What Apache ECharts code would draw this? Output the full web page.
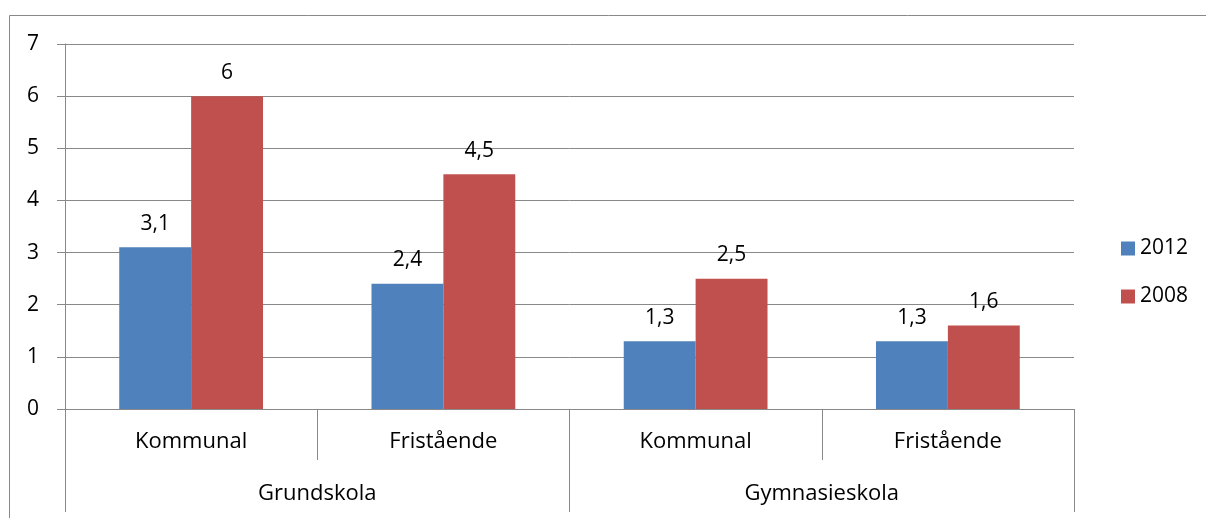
<!DOCTYPE html>
<html lang="sv">
<head>
<meta charset="UTF-8">
<title>Kommunal och fristående</title>
<script src="https://cdn.jsdelivr.net/npm/echarts@6/dist/echarts.min.js"></script>
<style>
  html, body { margin: 0; padding: 0; background: #fff; }
  #chart { width: 1206px; height: 518px; }
</style>
</head>
<body>
<div id="chart"></div>
<script>
var kategorier = ['Kommunal', 'Fristående', 'Kommunal', 'Fristående'];
var skolformer = ['Grundskola', 'Gymnasieskola'];
var serie2012 = [3.1, 2.4, 1.3, 1.3];
var serie2008 = [6, 4.5, 2.5, 1.6];
var yTicks = [0, 1, 2, 3, 4, 5, 6, 7];

var chart = echarts.init(document.getElementById('chart'));
var font = 'Open Sans, Noto Sans, sans-serif';
var gray = '#898989';
var fs = 22;

function komma(p) {
  return String(p.value).replace('.', ',');
}

var option = {
  animation: false,
  textStyle: { fontFamily: font },
  graphic: [{
    type: 'rect',
    shape: { x: 9.5, y: 15.5, width: 1300, height: 600 },
    style: { fill: 'none', stroke: gray, lineWidth: 1 },
    silent: true
  }],
  grid: { left: 65, right: 132, top: 44, bottom: 109 },
  legend: {
    orient: 'vertical',
    left: 1116,
    top: 233,
    itemWidth: 14,
    itemHeight: 14,
    itemGap: 27,
    icon: 'rect',
    textStyle: { fontSize: 21, color: '#000', fontFamily: font },
    data: ['2012', '2008']
  },
  xAxis: [{
    type: 'category',
    data: kategorier,
    axisLine: { lineStyle: { color: gray } },
    axisTick: { show: true, length: 51, interval: 0, lineStyle: { color: gray } },
    axisLabel: { margin: 22, fontSize: fs, color: '#000', interval: 0 }
  }, {
    type: 'category',
    data: skolformer,
    position: 'bottom',
    axisLine: { show: false },
    axisTick: { show: true, length: 103, interval: 0, lineStyle: { color: gray } },
    axisLabel: { margin: 74, fontSize: fs, color: '#000', interval: 0 }
  }],
  yAxis: {
    type: 'value',
    min: yTicks[0],
    max: yTicks[yTicks.length - 1],
    interval: 1,
    axisLine: { show: true, lineStyle: { color: gray } },
    axisTick: { show: true, length: 8, lineStyle: { color: gray } },
    axisLabel: { margin: 26, fontSize: 21, color: '#000' },
    splitLine: { lineStyle: { color: gray } }
  },
  series: [{
    name: '2012',
    type: 'bar',
    data: serie2012,
    barGap: '0%',
    barCategoryGap: '43%',
    itemStyle: { color: '#4F81BD' },
    label: { show: true, position: 'top', distance: 13, fontSize: 21, color: '#000', formatter: komma }
  }, {
    name: '2008',
    type: 'bar',
    data: serie2008,
    barGap: '0%',
    barCategoryGap: '43%',
    itemStyle: { color: '#C0504D' },
    label: { show: true, position: 'top', distance: 13, fontSize: 21, color: '#000', formatter: komma }
  }]
};

chart.setOption(option);
</script>
</body>
</html>
